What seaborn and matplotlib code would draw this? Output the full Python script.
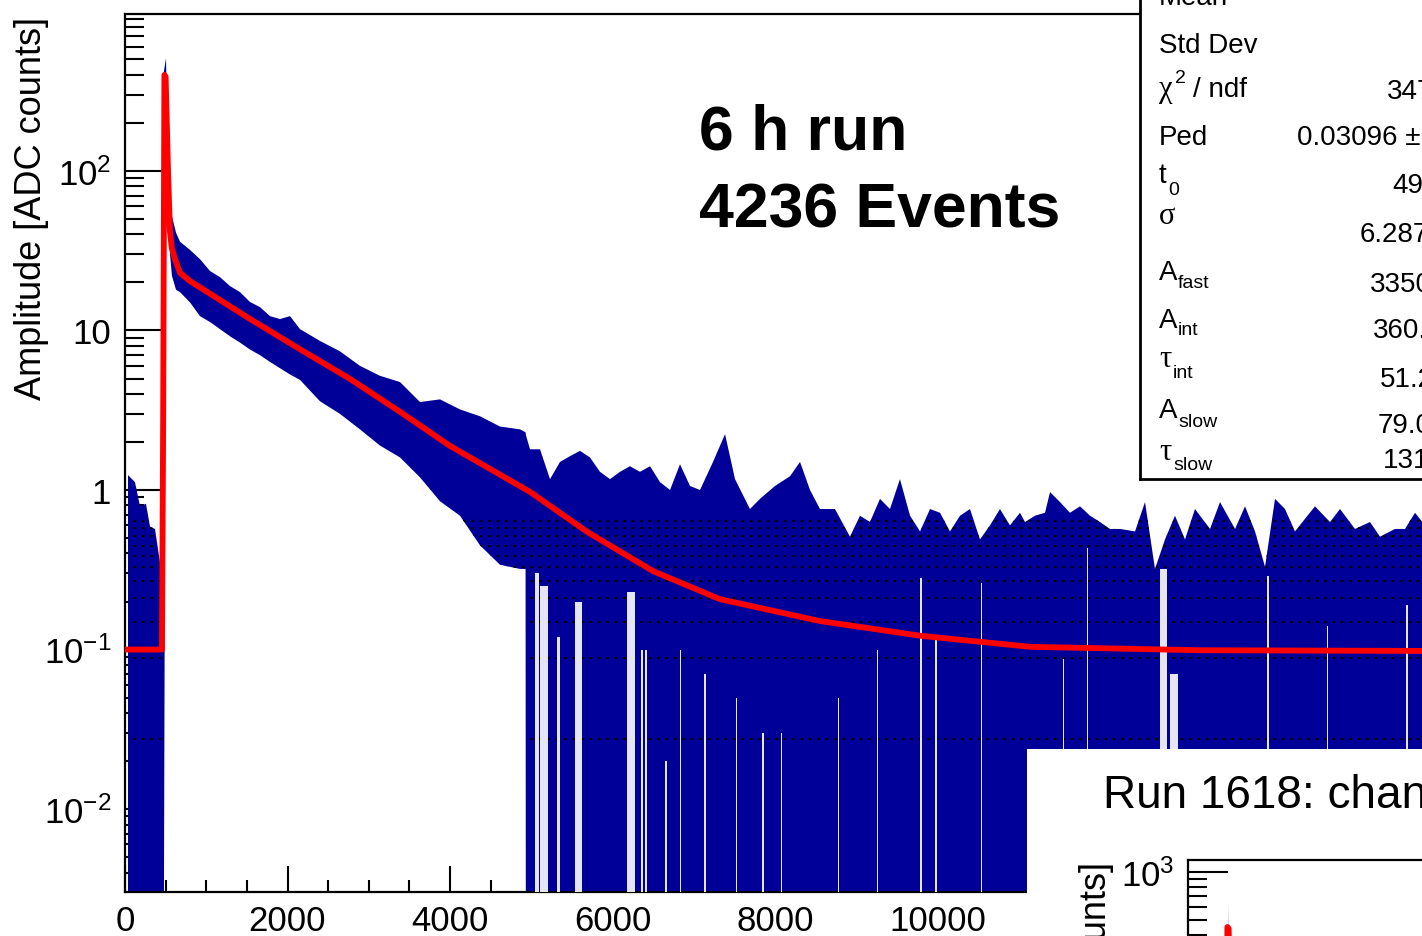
import matplotlib

matplotlib.use("Agg")

import matplotlib.pyplot as plt
import numpy as np
import seaborn as sns
from matplotlib.ticker import FixedLocator, FuncFormatter, LogLocator, NullFormatter

# ---- data ----------------------------------------------------------------
# pre-pulse noise (lower edge reaches the bottom of the frame)
pre_x = [37, 123, 185, 258, 308, 369, 431, 468, 472]
pre_hi = [1.24, 1.12, 0.79, 0.82, 0.59, 0.57, 0.35, 0.33, 400]

# pulse and decaying part of the histogram band
decay_x = [505, 529, 554, 578, 628, 677, 800, 923, 1046, 1169, 1292, 1415, 1538, 1662, 1785,
           1908, 2031, 2154, 2400, 2646, 2892, 3138, 3385, 3631, 3877, 4123, 4369, 4615, 4862, 4930]
decay_hi = [510, 80, 55, 52, 41, 36, 32, 28, 23.6, 21.6, 19, 17.4, 15.1, 14, 12.3,
            11.8, 12.3, 10.2, 8.6, 7.4, 6.0, 5.2, 4.75, 3.56, 3.7, 3.2, 2.9, 2.5, 2.4, 2.3]
decay_lo = [200, 55, 30, 22, 18, 17.4, 15, 12.3, 11.3, 10.2, 9.2, 8.4, 7.6, 7.0, 6.35,
            5.8, 5.3, 4.9, 3.6, 3.0, 2.4, 1.9, 1.6, 1.2, 0.85, 0.69, 0.45, 0.34, 0.32, 0.32]

# noisy tail (lower edge reaches the bottom of the frame)
tail_x = [4935, 4985, 5108, 5231, 5354, 5477, 5600, 5723, 5846, 5969, 6092, 6215, 6338, 6462, 6585,
          6708, 6831, 6954, 7077, 7237, 7385, 7508, 7692, 7815, 8000, 8185, 8308, 8431, 8554, 8738,
          8923, 9046, 9169, 9292, 9415, 9538, 9662, 9785, 9908, 10031, 10154, 10277, 10400, 10523,
          10646, 10769, 10892, 11015, 11077, 11200, 11323, 11385, 11508, 11631, 11754, 11877, 12000,
          12123, 12246, 12431, 12554, 12677, 12800, 12923, 13046, 13169, 13354, 13477, 13662, 13785,
          13908, 14031, 14154, 14277, 14400, 14523, 14646, 14831, 14954, 15138, 15323, 15446, 15631,
          15754, 15877, 16000]
tail_hi = [2.2, 1.8, 1.8, 1.17, 1.5, 1.63, 1.76, 1.6, 1.3, 1.17, 1.3, 1.41, 1.3, 1.41, 1.12,
           1.0, 1.45, 1.06, 1.0, 1.5, 2.24, 1.17, 0.76, 0.88, 1.06, 1.22, 1.5, 1.0, 0.76, 0.76,
           0.51, 0.69, 0.63, 0.88, 0.76, 1.17, 0.69, 0.55, 0.76, 0.72, 0.55, 0.69, 0.76, 0.49,
           0.6, 0.76, 0.6, 0.72, 0.63, 0.69, 0.72, 0.97, 0.84, 0.72, 0.79, 0.69, 0.63,
           0.57, 0.57, 0.55, 0.84, 0.32, 0.49, 0.69, 0.49, 0.76, 0.57, 0.84, 0.57, 0.79,
           0.55, 0.33, 0.88, 0.76, 0.55, 0.66, 0.79, 0.63, 0.76, 0.57, 0.63, 0.51, 0.57,
           0.57, 0.72, 0.6]

# bins whose lower error does not reach the bottom (white gaps in the tail)
gap_start = [5040, 5105, 5320, 5540, 6180, 6350, 6405, 6650, 6825, 7130, 7515, 7845, 8070, 8770,
             9250, 9790, 9975, 10530, 11540, 11835, 12740, 12860, 14060, 14790, 15770]
gap_end = [5090, 5200, 5355, 5625, 6275, 6375, 6420, 6665, 6840, 7145, 7530, 7860, 8085, 8785,
           9265, 9805, 9990, 10545, 11555, 11850, 12830, 12960, 14075, 14805, 15785]
gap_top = [0.3, 0.25, 0.12, 0.2, 0.23, 0.1, 0.1, 0.02, 0.1, 0.07, 0.05, 0.03, 0.03, 0.05,
           0.1, 0.28, 0.116, 0.26, 0.087, 0.43, 0.32, 0.07, 0.29, 0.14, 0.19]

# quantised bin contents (rows of black markers)
dot_levels = [0.0275, 0.088, 0.149, 0.21, 0.269, 0.329, 0.386, 0.446, 0.515, 0.575, 0.64]

# fitted pulse shape
fit_x = [0, 455, 470, 485, 500, 529, 554, 575, 615, 677, 800, 1000, 1540, 2150, 2770, 3390,
         4000, 4990, 5690, 6500, 7320, 8550, 9790, 11140, 13230, 16000, 20000]
fit_y = [0.1, 0.1, 3, 400, 390, 102, 41.5, 33, 28, 23, 20.4, 17.6, 11.8, 7.65, 4.97, 3.08,
         1.89, 0.97, 0.546, 0.31, 0.207, 0.151, 0.122, 0.104, 0.099, 0.098, 0.098]

# second pad (only its peak is visible)
inset_x = [480, 500, 515]
inset_hi = [1.0, 620, 60]
inset_fit_x = [455, 470, 485, 500, 529]
inset_fit_y = [0.1, 3, 450, 440, 110]

x_major = [0, 2000, 4000, 6000, 8000, 10000]
x_minor = [500, 1000, 1500, 2500, 3000, 3500, 4500, 5000, 5500, 6500, 7000, 7500,
           8500, 9000, 9500, 10500, 11000]

stat_values = ["347", "0.03096 \u00b1", "49", "6.287", "3350", "360.", "51.2", "79.0", "131"]

FLOOR = 1e-4
W, H = 1422, 937


def fx(px):
    return px / W


def fy(py):
    return 1 - py / H


def log_label(v, pos):
    e = int(round(np.log10(v)))
    if e == 0:
        return "1"
    if e == 1:
        return "10"
    return rf"$10^{{{e}}}$"


sns.set_theme(style="ticks")
plt.rcParams.update({
    "font.family": ["Liberation Sans", "DejaVu Sans"],
    "mathtext.fontset": "custom",
    "mathtext.rm": "Liberation Sans",
    "mathtext.it": "Liberation Sans:italic",
    "mathtext.default": "regular",
    "axes.linewidth": 1.5,
    "text.color": "black",
    "xtick.color": "black",
    "ytick.color": "black",
})

NAVY = "#000099"
RED = "#ff0000"
SERIF = ["Liberation Serif", "DejaVu Serif"]

fig = plt.figure(figsize=(W / 100, H / 100), dpi=100)
fig.patch.set_facecolor("white")

# ---- main pad --------------------------------------------------------------
axw = 1625 / W
ax = fig.add_axes([fx(125), fy(893), axw, (893 - 15) / H])
ax.set_facecolor("white")
ax.set_yscale("log")

hx = np.array(pre_x + decay_x + tail_x, dtype=float)
hhi = np.array(pre_hi + decay_hi + tail_hi, dtype=float)
hlo = np.array([FLOOR] * len(pre_x) + decay_lo + [FLOOR] * len(tail_x), dtype=float)
band = ax.fill_between(hx, hlo, hhi, color=NAVY, lw=0, zorder=2)

dots = ax.hlines(dot_levels, 0, 16500, colors="black", linestyles=(0, (1.2, 2.6)),
                 linewidth=1.6, zorder=2.5)
dots.set_clip_path(band.get_paths()[0], ax.transData)

gs = np.array(gap_start, dtype=float)
ax.bar(gs, np.array(gap_top) - FLOOR, width=np.array(gap_end) - gs, bottom=FLOOR,
       align="edge", color="white", lw=0, alpha=0.9, zorder=3)

sns.lineplot(x=fit_x, y=fit_y, ax=ax, color=RED, linewidth=4.2, estimator=None,
             sort=False, zorder=4)

ax.set_xlim(0, 20000)
ax.set_ylim(10 ** -2.52, 10 ** 2.984)
ax.xaxis.set_major_locator(FixedLocator(x_major))
ax.xaxis.set_minor_locator(FixedLocator(x_minor))
ax.xaxis.set_major_formatter(FuncFormatter(lambda v, p: f"{v:.0f}"))
ax.yaxis.set_major_locator(FixedLocator([0.01, 0.1, 1, 10, 100]))
ax.yaxis.set_major_formatter(FuncFormatter(log_label))
ax.yaxis.set_minor_locator(LogLocator(base=10, subs=np.arange(2, 10), numticks=30))
ax.yaxis.set_minor_formatter(NullFormatter())
ax.tick_params(axis="x", which="major", direction="in", length=18.5, width=1.5, pad=9,
               labelsize=25, colors="black")
ax.tick_params(axis="x", which="minor", direction="in", length=9, width=1.5)
ax.tick_params(axis="y", which="major", direction="in", length=27, width=1.5, pad=10,
               labelsize=25, colors="black")
ax.tick_params(axis="y", which="minor", direction="in", length=14, width=1.5)
for s in ax.spines.values():
    s.set_color("black")
    s.set_linewidth(1.6)
ax.set_xlabel("")
ax.set_ylabel("")

fig.text(fx(32), fy(17), "Amplitude [ADC counts]", rotation=90, ha="center", va="top",
         fontsize=26)
fig.text(fx(699), fy(150), "6 h run", fontsize=45, fontweight="bold", va="baseline")
fig.text(fx(699), fy(228), "4236 Events", fontsize=45, fontweight="bold", va="baseline")

# ---- statistics box ----------------------------------------------------------
box = fig.add_axes([fx(1140), fy(480), 0.5, 0.6], zorder=10)
box.set_facecolor("white")
box.set_xticks([])
box.set_yticks([])
for s in box.spines.values():
    s.set_color("black")
    s.set_linewidth(2)

Z = 12
LX = fx(1159)
fig.text(LX, fy(5), "Mean", fontsize=20, va="baseline", zorder=Z)
fig.text(LX, fy(53), "Std Dev", fontsize=20, va="baseline", zorder=Z)
fig.text(LX, fy(97), "\u03c7", fontsize=22, family=SERIF, va="baseline", zorder=Z)
fig.text(fx(1175), fy(83), "2", fontsize=14, va="baseline", zorder=Z)
fig.text(fx(1193), fy(97), "/ ndf", fontsize=20, va="baseline", zorder=Z)
fig.text(LX, fy(145), "Ped", fontsize=20, va="baseline", zorder=Z)
fig.text(LX, fy(183), "t", fontsize=20, va="baseline", zorder=Z)
fig.text(fx(1168), fy(195), "0", fontsize=14, va="baseline", zorder=Z)
fig.text(LX, fy(224), "\u03c3", fontsize=22, family=SERIF, va="baseline", zorder=Z)

sub_rows = [("A", "fast", 280, 288, 1178, None), ("A", "int", 328, 335, 1178, None),
            ("\u03c4", "int", 367, 378, 1173, SERIF), ("A", "slow", 418, 427, 1178, None),
            ("\u03c4", "slow", 460, 470, 1173, SERIF)]
for main, sub, yb, ysb, xs, fam in sub_rows:
    if fam:
        fig.text(LX, fy(yb), main, fontsize=22, family=fam, va="baseline", zorder=Z)
    else:
        fig.text(LX, fy(yb), main, fontsize=20, va="baseline", zorder=Z)
    fig.text(fx(xs), fy(ysb), sub, fontsize=14, va="baseline", zorder=Z)

value_x = [1387, 1297, 1392, 1360, 1370, 1373, 1380, 1378, 1383]
value_y = [99, 145, 193, 242, 292, 338, 387, 433, 468]
for txt, vx, vy in zip(stat_values, value_x, value_y):
    fig.text(fx(vx), fy(vy), txt, fontsize=20, va="baseline", zorder=Z)

# ---- overlapping second pad ---------------------------------------------------
pad = fig.add_axes([fx(1027), 0, 1 - fx(1027), fy(750)], zorder=10)
pad.set_facecolor("white")
pad.set_xticks([])
pad.set_yticks([])
for s in pad.spines.values():
    s.set_visible(False)

fig.text(fx(1103), fy(808), "Run 1618: channel", fontsize=33, va="baseline", zorder=Z)

ih = 878 / H
inset = fig.add_axes([fx(1188), fy(861) - ih, axw, ih], zorder=11)
inset.set_facecolor("white")
inset.set_yscale("log")
inset.fill_between(inset_x, [FLOOR] * len(inset_x), inset_hi, color=NAVY, lw=0)
sns.lineplot(x=inset_fit_x, y=inset_fit_y, ax=inset, color=RED, linewidth=4.2,
             estimator=None, sort=False)
inset.set_xlim(0, 20000)
inset.set_ylim(10 ** (3.0734 - 878 / 159.5), 10 ** 3.0734)
inset.yaxis.set_major_locator(FixedLocator([1000]))
inset.yaxis.set_major_formatter(FuncFormatter(log_label))
inset.yaxis.set_minor_locator(LogLocator(base=10, subs=np.arange(2, 10), numticks=30))
inset.yaxis.set_minor_formatter(NullFormatter())
inset.set_xticks([])
inset.tick_params(axis="y", which="major", direction="in", length=29, width=1.5, pad=10,
                  labelsize=25, colors="black")
inset.tick_params(axis="y", which="minor", direction="in", length=14, width=1.5)
for s in inset.spines.values():
    s.set_color("black")
    s.set_linewidth(1.6)
inset.set_xlabel("")
inset.set_ylabel("")
fig.text(fx(1096), fy(862), "Amplitude [ADC counts]", rotation=90, ha="center", va="top",
         fontsize=26, zorder=Z)

fig.savefig("out.png", dpi=100)
plt.close(fig)
